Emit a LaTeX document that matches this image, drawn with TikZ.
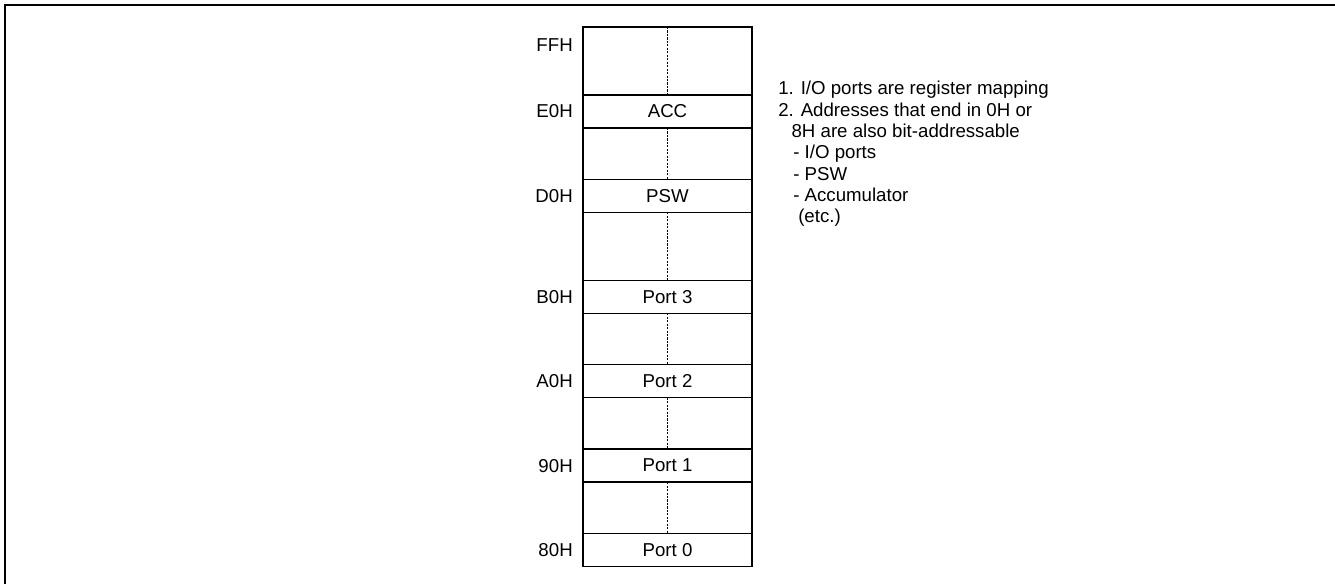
\documentclass[tikz,border=0pt]{standalone}
\usepackage{fontspec}
\setmainfont{Liberation Sans}
\usetikzlibrary{positioning}

\begin{document}
\begin{tikzpicture}[x=0.75pt,y=-0.75pt,font=\fontsize{14}{16}\selectfont,
            cell/.style={draw,line width=1pt,minimum width=126.75pt,inner sep=0pt,outer sep=0pt,anchor=north},
            reg/.style={cell,minimum height=24.75pt},
            gap/.style={cell,minimum height=#1},
            addr/.style={anchor=east,inner sep=0pt,xshift=-7.5pt},
            dots/.style={line width=1pt,dash pattern=on 1.6pt off 1pt}]
            \useasboundingbox (0,0) rectangle (1335,584);
            \draw[line width=1.5pt] (5,584) -- (5,5) -- (1335,5);
            \node[gap=51pt] (ff) at (667.5,27) {};
            \node[reg,below=0pt of ff] (acc) {ACC};
            \node[gap=38.4pt,below=0pt of acc] (gd) {};
            \node[reg,below=0pt of gd] (psw) {PSW};
            \node[gap=51pt,below=0pt of psw] (gb) {};
            \node[reg,below=0pt of gb] (p3) {Port 3};
            \node[gap=38.6pt,below=0pt of p3] (ga) {};
            \node[reg,below=0pt of ga] (p2) {Port 2};
            \node[gap=38.6pt,below=0pt of p2] (g9) {};
            \node[reg,below=0pt of g9] (p1) {Port 1};
            \node[gap=38.4pt,below=0pt of p1] (g8) {};
            \node[reg,below=0pt of g8] (p0) {Port 0};
            \foreach \g in {ff,gd,gb,ga,g9,g8}
                \draw[dots] (\g.north) -- (\g.south);
            \node[addr] (lff) at (583,45) {FFH};
            \node[addr] (le0) at (acc.west) {E0H};
            \node[addr] (ld0) at (psw.west) {D0H};
            \node[addr] (lb0) at (p3.west) {B0H};
            \node[addr] (la0) at (p2.west) {A0H};
            \node[addr] (l90) at (p1.west) {90H};
            \node[addr] (l80) at (p0.west) {80H};
            \node[anchor=north west,align=left,inner sep=0pt] (notes) at (778,81)
                {1. I/O ports are register mapping\\
                 2. Addresses that end in 0H or\\
                 \hspace*{10pt}8H are also bit-addressable\\
                 \hspace*{11.25pt}- I/O ports\\
                 \hspace*{11.25pt}- PSW\\
                 \hspace*{11.25pt}- Accumulator\\
                 \hspace*{15pt}(etc.)};
\end{tikzpicture}
\end{document}
